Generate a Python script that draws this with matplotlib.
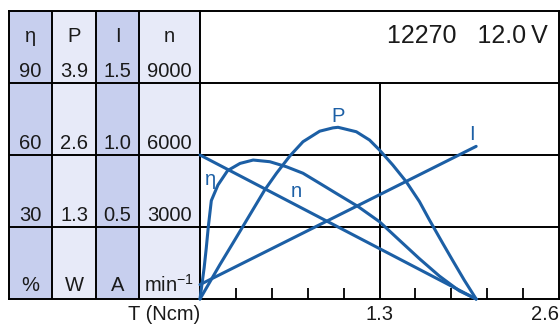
import matplotlib
matplotlib.use("Agg")

import matplotlib.pyplot as plt
import numpy as np

plt.rcParams['font.family'] = ['Liberation Sans', 'DejaVu Sans']

# torque axis (Ncm)
t_max = 2.6

# speed and current are straight lines, read at both ends
t_line = [0.0, 2.0]
speed = [6000, 0]          # min^-1
current = [0.10, 1.06]     # A

# efficiency
t_eta = [0, 0.03, 0.045, 0.06, 0.082, 0.13, 0.20, 0.29, 0.385, 0.506, 0.626,
         0.746, 0.867, 0.987, 1.143, 1.30, 1.444, 1.589, 1.733, 1.878, 2.0]
eta = [0, 13, 21, 30, 41.0, 47.5, 53.5, 56.5, 57.9, 57.2, 55.1,
       52.4, 48.2, 44.0, 38.6, 32.2, 24.5, 16.8, 9.6, 3.4, 0]

# output power
t_pow = [0, 0.144, 0.253, 0.385, 0.469, 0.554, 0.65, 0.746, 0.867, 0.963, 1.0,
         1.132, 1.228, 1.30, 1.396, 1.493, 1.589, 1.661, 1.757, 1.829, 1.914, 2.0]
power = [0, 0.62, 1.07, 1.62, 1.97, 2.27, 2.58, 2.84, 3.03, 3.09, 3.10,
         3.02, 2.87, 2.69, 2.42, 2.12, 1.76, 1.43, 1.01, 0.70, 0.34, 0]

# table on the left: header, step per row, unit
headers = ["\u03b7", "P", "I", "n"]
steps = [30, 1.3, 0.5, 3000]
tick_text = [["30", "60", "90"],
             ["1.3", "2.6", "3.9"],
             ["0.5", "1.0", "1.5"],
             ["3000", "6000", "9000"]]
units = ["%", "W", "A", r"min$^{\mathregular{-1}}$"]
title = "12270   12.0\u2009V"

blue = "#1c5fa5"
dark = "#c7cfee"
light = "#e7eaf8"
ink = "#1a1a1a"
col_edges = [9, 52, 96, 139, 200]
fs = 14.5

fig = plt.figure(figsize=(5.6, 3.27), dpi=100)
W, H = 560, 327

# ---- table ----
tab = fig.add_axes([col_edges[0] / W, 28 / H, (col_edges[-1] - col_edges[0]) / W, 288 / H])
tab.set_xlim(col_edges[0], col_edges[-1])
tab.set_ylim(0, 4)
tab.set_xticks([])
tab.set_yticks([])
for sp in tab.spines.values():
    sp.set_linewidth(1.4)
for i in range(4):
    tab.axvspan(col_edges[i], col_edges[i + 1], color=dark if i % 2 == 0 else light, lw=0)
    if i > 0:
        tab.axvline(col_edges[i], color="black", lw=1.4)
    xc = (col_edges[i] + col_edges[i + 1]) / 2
    tab.text(xc, 3.65, headers[i], ha="center", va="center", fontsize=fs, color=ink)
    for k, lab in enumerate(tick_text[i]):
        tab.text(xc, k + 1 + 0.16, lab, ha="center", va="center", fontsize=fs, color=ink)
    tab.text(xc, 0.19, units[i], ha="center", va="center", fontsize=fs, color=ink)
for k in range(1, 4):
    tab.axhline(k, color="black", lw=1.4)

# ---- plot ----
ax = fig.add_axes([200 / W, 28 / H, 359 / W, 288 / H])
ax.set_xlim(0, t_max)
ax.set_ylim(0, 4)
ax.set_yticks([])
for sp in ax.spines.values():
    sp.set_linewidth(1.4)
for k in range(1, 4):
    ax.axhline(k, color="black", lw=1.4)
ax.axvline(1.3, ymax=0.75, color="black", lw=1.4)

ax.set_xticks([0, 1.3, 2.6])
ax.set_xticklabels(["T (Ncm)", "1.3", "2.6"], fontsize=fs, color=ink)
ax.set_xticks(np.arange(1, 10) * 0.26, minor=True)
ax.tick_params(axis="x", which="major", length=0, pad=4)
ax.tick_params(axis="x", which="minor", direction="in", length=8, width=1.3)
labs = ax.get_xticklabels()
labs[0].set_ha("right")
labs[2].set_ha("right")

series = [(t_eta, eta, 0), (t_pow, power, 1), (t_line, current, 2), (t_line, speed, 3)]
twins = []
for tx, vals, i in series:
    tw = ax.twinx()
    tw.set_ylim(0, 4 * steps[i])
    tw.axis("off")
    tw.plot(tx, vals, color=blue, lw=2.2, solid_capstyle="round",
            solid_joinstyle="round", clip_on=False)
    twins.append(tw)

twins[0].text(0.077, 49.9, "\u03b7", color=blue, fontsize=fs, ha="center", va="center")
twins[1].text(1.0, 3.29, "P", color=blue, fontsize=fs, ha="center", va="center")
twins[2].text(1.97, 1.14, "I", color=blue, fontsize=fs, ha="center", va="center")
twins[3].text(0.70, 4470, "n", color=blue, fontsize=fs, ha="center", va="center")

fig.text(548 / W, 1 - 36 / H, title, ha="right", va="center", fontsize=18, color=ink)

fig.savefig("out.png", dpi=100)
